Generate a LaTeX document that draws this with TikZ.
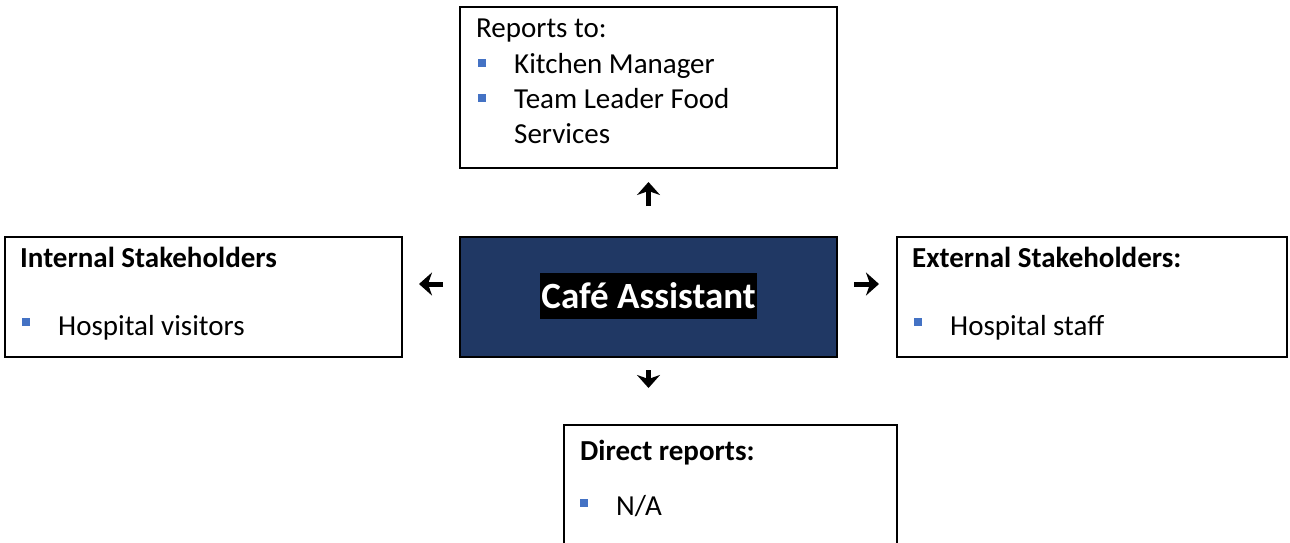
\documentclass[tikz,border=0pt]{standalone}
\usepackage{fontspec}
\setmainfont{Carlito}
\usetikzlibrary{arrows.meta}
\definecolor{navy}{HTML}{203864}
\definecolor{bulletblue}{HTML}{4472C4}
\begin{document}
\begin{tikzpicture}[x=1pt,y=-1pt,
 box/.style={draw=black,line width=2pt,rectangle,inner sep=0pt,anchor=north west},
 txt/.style={anchor=base west,inner sep=0pt,font=\fontsize{29}{35}\selectfont},
 head/.style={anchor=base west,inner sep=0pt,font=\fontsize{29}{35}\selectfont\bfseries},
 bul/.style={fill=bulletblue,minimum size=8pt,inner sep=0pt,rectangle},
 arr/.style={line width=5pt,-{Stealth[length=13pt,width=23pt,inset=4pt]}}]
\clip (0,0) rectangle (1290,542);
\useasboundingbox (0,0) rectangle (1290,542);
% boxes
\node[box,minimum width=377pt,minimum height=161pt] (top) at (459,6) {};
\node[box,fill=navy,minimum width=377pt,minimum height=120pt] (center) at (459,236) {};
\node[box,minimum width=397pt,minimum height=120pt] (left) at (4,236) {};
\node[box,minimum width=390pt,minimum height=120pt] (right) at (896,236) {};
\node[box,minimum width=333pt,minimum height=150pt] (bottom) at (563,424) {};
% top texts
\node[txt] (rt) at (476,37) {Reports to:};
\node[bul] (b1) at (482,63) {};
\node[txt] (km) at (514,73) {Kitchen Manager};
\node[bul] (b2) at (482,98) {};
\node[txt] (tl) at (514,108) {Team Leader Food};
\node[txt] (sv) at (514,143) {Services};
% center
\node[anchor=base,fill=black,text=white,inner sep=0pt,inner xsep=1.5pt,text height=35pt,text depth=11pt,font=\fontsize{37}{44}\selectfont\bfseries] (ca) at (648.5,308) {Café Assistant};
% left
\node[head] (ih) at (20,267) {Internal Stakeholders};
\node[bul] (b3) at (26,322) {};
\node[txt] (hv) at (58,335) {Hospital visitors};
% right
\node[head] (eh) at (912,267) {External Stakeholders:};
\node[bul] (b4) at (918,322) {};
\node[txt] (hs) at (950,335) {Hospital staff};
% bottom
\node[head] (dr) at (580,460) {Direct reports:};
\node[bul] (b5) at (584,503) {};
\node[txt] (na) at (616,515) {N/A};
% arrows
\draw[arr,shorten <=30pt,shorten >=13pt] (center.north) -- (top.south);
\draw[arr,shorten <=16pt,shorten >=16pt] ([yshift=13pt]center.west) -- ([yshift=13pt]left.east);
\draw[arr,shorten <=16pt,shorten >=17pt] ([yshift=13pt]center.east) -- ([yshift=13pt]right.west);
\coordinate (bn) at (center.south |- bottom.north);
\draw[arr,shorten <=12pt,shorten >=36pt] (center.south) -- (bn);
\end{tikzpicture}
\end{document}
